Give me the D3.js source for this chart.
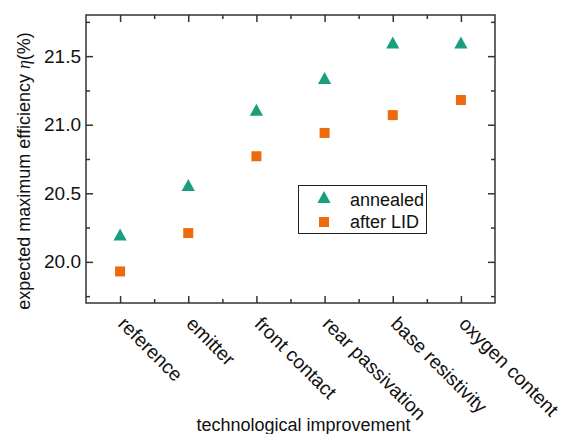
<!DOCTYPE html>
<html>
<head>
<meta charset="utf-8">
<script src="https://cdn.jsdelivr.net/npm/d3@7"></script>
<style>
  html, body { margin: 0; padding: 0; background: #fff; }
  svg { display: block; }
  text { font-family: "Liberation Sans", Arial, sans-serif; fill: #111; }
</style>
</head>
<body>
<svg id="chart" width="563" height="434"></svg>
<script>
const categories = ["reference", "emitter", "front contact", "rear passivation", "base resistivity", "oxygen content"];
const annealed = [20.20, 20.56, 21.11, 21.34, 21.60, 21.60];
const afterLID = [19.93, 20.21, 20.77, 20.94, 21.07, 21.18];
const yTicks = [20.0, 20.5, 21.0, 21.5];
const yMinorTicks = [19.75, 20.25, 20.75, 21.25, 21.75];
const seriesNames = ["annealed", "after LID"];

const colTeal = "#1a9e7e";
const colOrange = "#ed6b0d";
const frameCol = "#333";

const svg = d3.select("#chart");
const L = 86, R = 495, T = 15, B = 303;

const x = d3.scaleLinear().domain([-0.5, categories.length - 0.5]).range([L, R]);
const y = d3.scaleLinear().domain([19.7, 21.8]).range([B, T]);

const idx = d3.range(categories.length);
const xMinor = d3.range(categories.length - 1).map(i => i + 0.5);

function styleAxis(g) {
  g.select(".domain").remove();
  g.selectAll(".tick line").attr("stroke", frameCol).attr("stroke-width", 1.5);
}

// bottom axis (inward ticks)
svg.append("g").attr("transform", `translate(0,${B})`)
  .call(d3.axisBottom(x).tickValues(idx).tickSize(-7).tickFormat(""))
  .call(styleAxis);
svg.append("g").attr("transform", `translate(0,${B})`)
  .call(d3.axisBottom(x).tickValues(xMinor).tickSize(-4).tickFormat(""))
  .call(styleAxis);
// top axis
svg.append("g").attr("transform", `translate(0,${T})`)
  .call(d3.axisTop(x).tickValues(idx).tickSize(-7).tickFormat(""))
  .call(styleAxis);
svg.append("g").attr("transform", `translate(0,${T})`)
  .call(d3.axisTop(x).tickValues(xMinor).tickSize(-4).tickFormat(""))
  .call(styleAxis);
// left axis
const yl = svg.append("g").attr("transform", `translate(${L},0)`)
  .call(d3.axisLeft(y).tickValues(yTicks).tickSize(-7).tickPadding(5).tickFormat(d3.format(".1f")))
  .call(styleAxis);
yl.selectAll(".tick text").attr("font-size", 19).attr("font-family", "Liberation Sans, Arial, sans-serif").attr("fill", "#111");
svg.append("g").attr("transform", `translate(${L},0)`)
  .call(d3.axisLeft(y).tickValues(yMinorTicks).tickSize(-4).tickFormat(""))
  .call(styleAxis);
// right axis
svg.append("g").attr("transform", `translate(${R},0)`)
  .call(d3.axisRight(y).tickValues(yTicks).tickSize(-7).tickFormat(""))
  .call(styleAxis);
svg.append("g").attr("transform", `translate(${R},0)`)
  .call(d3.axisRight(y).tickValues(yMinorTicks).tickSize(-4).tickFormat(""))
  .call(styleAxis);

// frame
svg.append("rect").attr("x", L).attr("y", T).attr("width", R - L).attr("height", B - T)
  .attr("fill", "none").attr("stroke", frameCol).attr("stroke-width", 1.5);

// x category labels rotated 45°
svg.append("g").selectAll("text").data(categories).join("text")
  .attr("transform", (d, i) => `translate(${x(i) - 3},325) rotate(45)`)
  .attr("font-size", 19.3)
  .attr("text-anchor", "start")
  .text(d => d);

// markers
const triPath = "M0,-6L6.6,6L-6.6,6Z";
svg.append("g").selectAll("path").data(annealed).join("path")
  .attr("d", triPath)
  .attr("transform", (d, i) => `translate(${x(i)},${y(d)})`)
  .attr("fill", colTeal);
svg.append("g").selectAll("rect").data(afterLID).join("rect")
  .attr("x", (d, i) => x(i) - 5).attr("y", d => y(d) - 5)
  .attr("width", 10).attr("height", 10)
  .attr("fill", colOrange);

// legend
const lg = svg.append("g");
lg.append("rect").attr("x", 298.5).attr("y", 185.5).attr("width", 128).attr("height", 48)
  .attr("fill", "#fff").attr("stroke", "#222").attr("stroke-width", 1);
lg.append("path").attr("d", triPath).attr("transform", "translate(324,197)").attr("fill", colTeal);
lg.append("rect").attr("x", 319).attr("y", 217).attr("width", 10).attr("height", 10).attr("fill", colOrange);
lg.append("text").attr("x", 350).attr("y", 206).attr("font-size", 18).text(seriesNames[0]);
lg.append("text").attr("x", 350).attr("y", 228).attr("font-size", 18).text(seriesNames[1]);

// axis titles
svg.append("text").attr("x", 303.5).attr("y", 431).attr("text-anchor", "middle")
  .attr("font-size", 18).text("technological improvement");

const yt = svg.append("text").attr("transform", "translate(30,171) rotate(-90)")
  .attr("text-anchor", "middle").attr("font-size", 18);
yt.append("tspan").text("expected maximum efficiency ");
yt.append("tspan").attr("font-family", "Liberation Serif, DejaVu Serif, serif").attr("font-style", "italic").text("\u03B7");
yt.append("tspan").text("(%)");
</script>
</body>
</html>
